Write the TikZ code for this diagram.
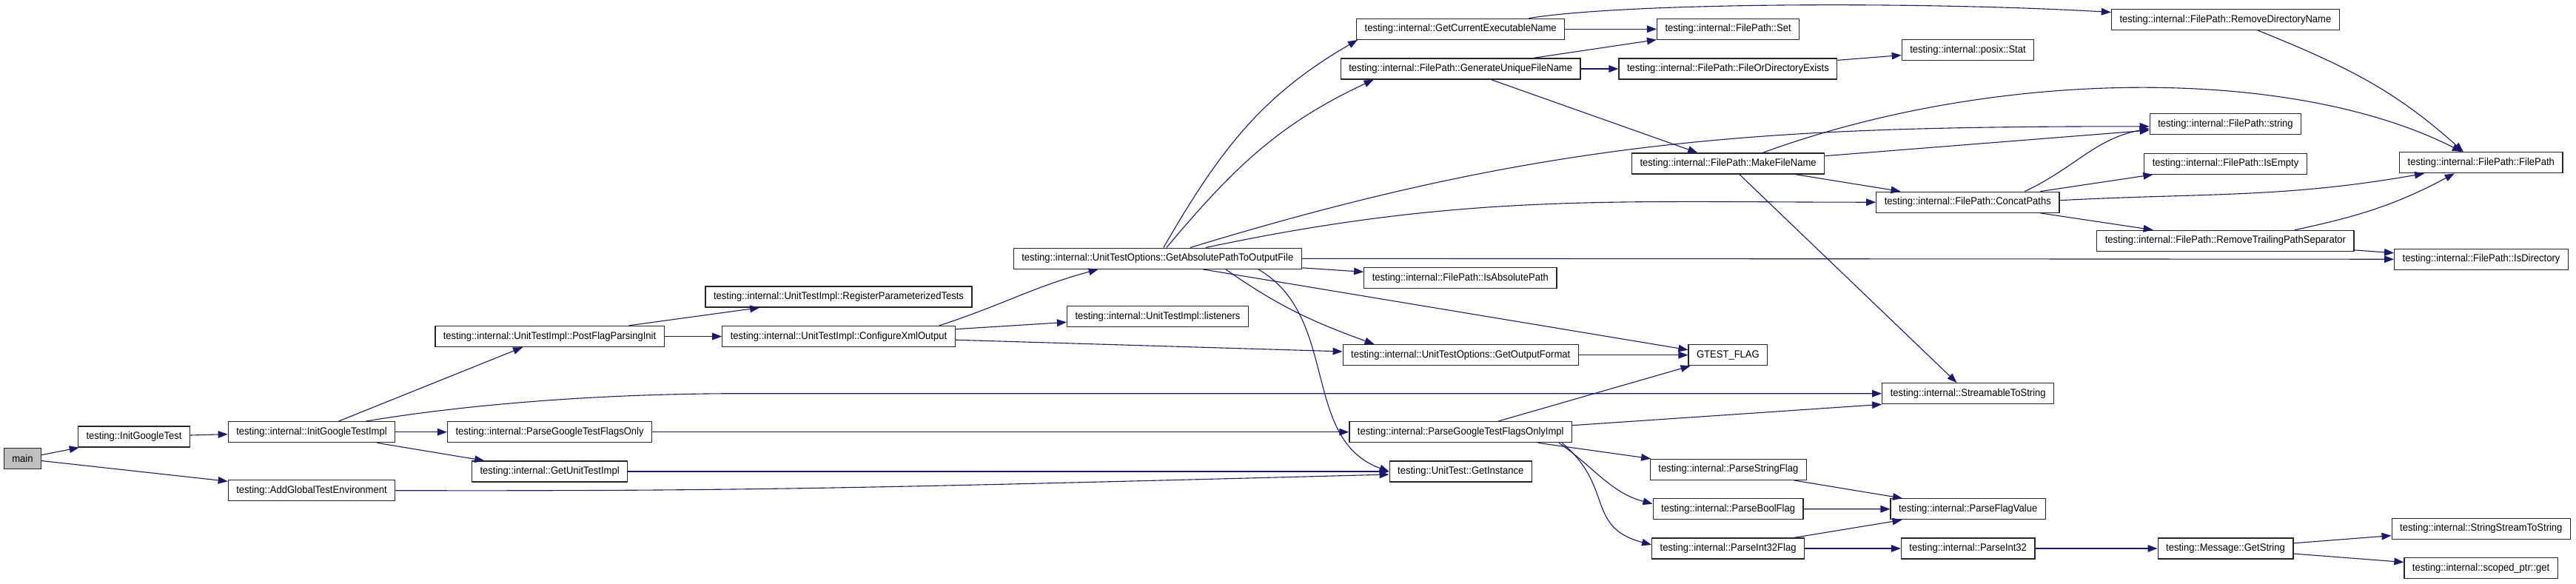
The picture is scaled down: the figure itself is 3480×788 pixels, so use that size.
\documentclass[tikz,border=0pt]{standalone}
\usepackage{fontspec}
\setmainfont{Liberation Sans}[FakeStretch=0.93]
\usepackage{tikz}
\usetikzlibrary{arrows.meta,positioning,calc}
\definecolor{edgeblue}{RGB}{25,25,112}
\definecolor{maingray}{RGB}{191,191,191}

\begin{document}
\begin{tikzpicture}[x=0.5pt,y=-0.5pt,
    fn/.style={draw=black!85,line width=0.65pt,fill=white,minimum height=14pt,inner xsep=5.5pt,inner ysep=0pt,font=\fontsize{7}{8}\selectfont},
    call/.style={edgeblue,line width=0.55pt,-{Triangle[length=6.5pt,width=4.8pt]}}]
    \fill[white] (0,0) rectangle (3480,788);
    \useasboundingbox (0,0) rectangle (3480,788);
    \node[fn,fill=maingray] (main) at (30.4,619.7) {main};
    \foreach \nm/\x/\y/\lab in {
      initgt/181/590/{testing::InitGoogleTest},
      initimpl/421/583.7/{testing::internal::InitGoogleTestImpl},
      addenv/421/662.7/{testing::AddGlobalTestEnvironment},
      postflag/742.5/454.5/{testing::internal::UnitTestImpl::PostFlagParsingInit},
      parseonly/742.6/583.7/{testing::internal::ParseGoogleTestFlagsOnly},
      getimpl/742.6/637/{testing::internal::GetUnitTestImpl},
      register/1133/401/{testing::internal::UnitTestImpl::RegisterParameterizedTests},
      configxml/1133/454.5/{testing::internal::UnitTestImpl::ConfigureXmlOutput},
      getabs/1563.8/349.2/{testing::internal::UnitTestOptions::GetAbsolutePathToOutputFile},
      listeners/1564/427.7/{testing::internal::UnitTestImpl::listeners},
      getcurexe/1973.2/39.3/{testing::internal::GetCurrentExecutableName},
      genunique/1973.2/93/{testing::internal::FilePath::GenerateUniqueFileName},
      isabs/1972.8/375.8/{testing::internal::FilePath::IsAbsolutePath},
      outformat/1973.2/479.7/{testing::internal::UnitTestOptions::GetOutputFormat},
      parseimpl/1973.2/583.7/{testing::internal::ParseGoogleTestFlagsOnlyImpl},
      getinst/1973.2/637/{testing::UnitTest::GetInstance},
      fpset/2334.6/39.3/{testing::internal::FilePath::Set},
      fileexists/2334.4/93/{testing::internal::FilePath::FileOrDirectoryExists},
      makefile/2334.6/221/{testing::internal::FilePath::MakeFileName},
      gtestflag/2334.4/479.7/{GTEST\_FLAG},
      parsestr/2334.8/634.3/{testing::internal::ParseStringFlag},
      parsebool/2334.6/687.7/{testing::internal::ParseBoolFlag},
      parseint32flag/2334.6/741/{testing::internal::ParseInt32Flag},
      stat/2658.5/67.5/{testing::internal::posix::Stat},
      concat/2658.3/273.2/{testing::internal::FilePath::ConcatPaths},
      streamable/2658.7/531.7/{testing::internal::StreamableToString},
      flagvalue/2658.7/687.8/{testing::internal::ParseFlagValue},
      parseint32/2658.7/741/{testing::internal::ParseInt32},
      rmdir/3006.4/26.5/{testing::internal::FilePath::RemoveDirectoryName},
      fpstring/3006.5/167.8/{testing::internal::FilePath::string},
      isempty/3006.5/221.2/{testing::internal::FilePath::IsEmpty},
      rmtrail/3006.4/325.3/{testing::internal::FilePath::RemoveTrailingPathSeparator},
      getstring/3006.5/741/{testing::Message::GetString},
      fpctor/3351.8/219.7/{testing::internal::FilePath::FilePath},
      isdir/3352/350.3/{testing::internal::FilePath::IsDirectory},
      sstos/3351.8/714.2/{testing::internal::StringStreamToString},
      scopedget/3351.6/767.5/{testing::internal::scoped\_ptr::get}}{
      \node[fn] (\nm) at (\x,\y) {\lab};
    }
    % straight calls
    \foreach \a/\b in {main/initgt,main/addenv,initgt/initimpl,initimpl/postflag,initimpl/parseonly,
      initimpl/getimpl,getimpl/getinst,parseonly/parseimpl,postflag/register,postflag/configxml,
      configxml/listeners,configxml/outformat,getabs/isdir,getabs/isabs,outformat/gtestflag,
      parseimpl/gtestflag,parseimpl/parsestr,parsestr/flagvalue,parsebool/flagvalue,
      parseint32flag/flagvalue,parseint32flag/parseint32,parseint32/getstring,getstring/sstos,
      getstring/scopedget,getcurexe/fpset,genunique/fpset,genunique/fileexists,genunique/makefile,
      fileexists/stat,makefile/fpstring,makefile/concat,makefile/streamable,concat/isempty,
      concat/rmtrail,rmtrail/isdir}{
      \draw[call] (\a) -- (\b);
    }
    % curved calls
    \draw[call] ($(initimpl.north east)+(-40,0)$) .. controls (620,548) and (800,531.7) .. (1000,531.7) -- (streamable.west);
    \draw[call] (addenv.east) .. controls (1000,663.5) and (1150,660) .. ($(getinst.west)+(0,4)$);
    \draw[call] ($(configxml.north east)+(-22,0)$) to[out=18,in=195] ($(getabs.south west)+(115,0)$);
    \draw[call] ($(getabs.north)+(8,0)$) to[out=60,in=210] ($(getcurexe.south west)+(2,0)$);
    \draw[call] ($(getabs.north)+(12,0)$) to[out=50,in=205] ($(genunique.south west)+(45,0)$);
    \draw[call] ($(getabs.north)+(44,0)$) to[out=17,in=180] ($(fpstring.west)+(0,3)$);
    \draw[call] ($(getabs.north)+(65,0)$) to[out=12,in=180] (concat.west);
    \draw[call] ($(getabs.south)+(61,0)$) -- ($(gtestflag.west)+(0,-7)$);
    \draw[call] ($(getabs.south)+(92,0)$) to[out=-35,in=160] ($(outformat.north west)+(43,0)$);
    \draw[call] ($(getabs.south)+(136,0)$) to[out=-30,in=160] (getinst.west);
    \draw[call] ($(parseimpl.east)+(0,-9)$) -- (streamable.south west);
    \draw[call] ($(parseimpl.south east)+(-18,0)$) to[out=-35,in=165] ($(parsebool.west)+(0,-7)$);
    \draw[call] ($(parseimpl.south east)+(-14,0)$) to[out=-40,in=165,looseness=1.3] ($(parseint32flag.west)+(0,-5)$);
    \draw[call] ($(getcurexe.north)+(92,0)$) .. controls (2200,3) and (2600,2) .. ($(rmdir.west)+(0,-10)$);
    \draw[call] ($(makefile.north)+(46.6,0)$) .. controls (2700,90) and (3100,90) .. ($(fpctor.north)+(-26,0)$);
    \draw[call] ($(concat.north)+(77,0)$) to[out=25,in=190] ($(fpstring.west)+(0,6)$);
    \draw[call] ($(concat.east)+(0,-2.5)$) to[out=3,in=190] ($(fpctor.south west)+(34,0)$);
    \draw[call] ($(rmdir.south)+(44,0)$) to[out=-22,in=138] ($(fpctor.north)+(-24,0)$);
    \draw[call] ($(rmtrail.north)+(93.6,0)$) to[out=12,in=208] ($(fpctor.south)+(-36,0)$);
\end{tikzpicture}
\end{document}
